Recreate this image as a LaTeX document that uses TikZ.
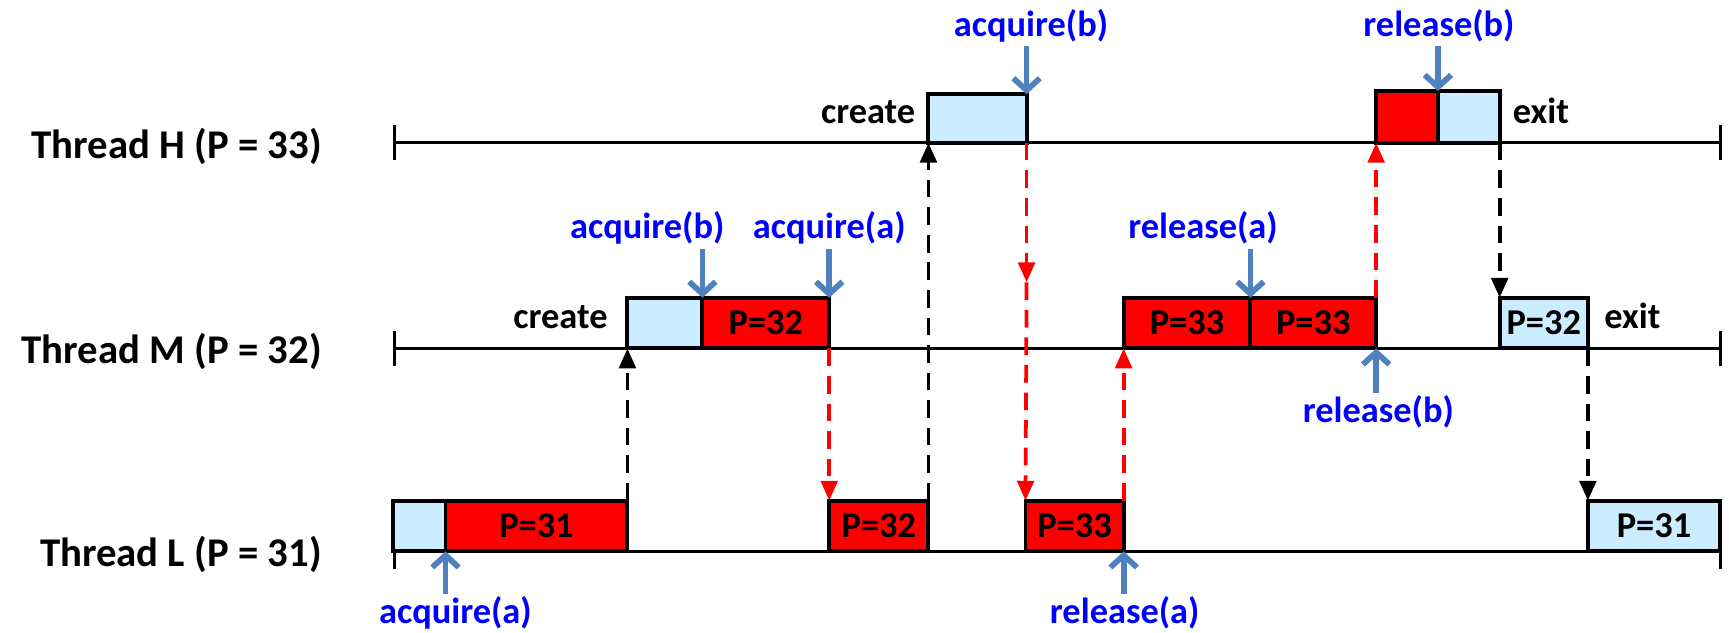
\documentclass[tikz,border=0pt]{standalone}
\usepackage{fontspec}
\setmainfont{Carlito}
\usetikzlibrary{arrows.meta}
\definecolor{paleblue}{RGB}{204,236,255}
\definecolor{evtarrow}{RGB}{80,128,190}
\definecolor{evttext}{RGB}{0,0,255}
\begin{document}
\begin{tikzpicture}[x=1pt, y=-1pt,
  lab/.style={font=\fontsize{33}{38}\selectfont\bfseries, inner sep=0pt, outer sep=0pt},
  thread/.style={font=\fontsize{37}{42}\selectfont\bfseries, inner sep=0pt, anchor=base east},
  slice/.style={lab, draw=black, line width=3.6pt, minimum height=46pt, anchor=south west},
  run/.style={slice, fill=red},
  idle/.style={slice, fill=paleblue},
  axis/.style={line width=2.8pt, {Bar[width=32pt]}-{Bar[width=32pt]}},
  evlabel/.style={lab, text=evttext, anchor=base},
  evarrow/.style={draw=evtarrow, line width=5.2pt, -{Straight Barb[length=11pt, width=24pt]}},
  handoff/.style={dash pattern=on 16pt off 9pt, line width=3.4pt, -{Triangle[length=18pt, width=15pt]}},
]
\useasboundingbox (0,0) rectangle (1568,574);

% ---------- time axes ----------
\coordinate (H0) at (356,129.5); \coordinate (H1) at (1562,129.5);
\coordinate (M0) at (356,316);   \coordinate (M1) at (1562,316);
\coordinate (L0) at (356,500);   \coordinate (L1) at (1562,500);
\draw[axis] (H0) -- (H1);
\draw[axis] (M0) -- (M1);
\draw[axis] (L0) -- (L1);

\node[thread] (tH) at (292,144) {Thread H (P = 33)};
\node[thread] (tM) at (292,330) {Thread M (P = 32)};
\node[thread] (tL) at (292,514) {Thread L (P = 31)};

% ---------- thread H ----------
\node[idle, minimum width=89pt, minimum height=44pt] (hNew) at (842,129.5) {};
\node[run,  minimum width=56pt, minimum height=47pt] (hRun) at (1248,129.5) {};
\node[idle, minimum width=56pt, minimum height=47pt] (hEnd) at (1304,129.5) {};
\node[lab, anchor=base east] (hCreate) at (830,112) {create};
\node[lab, anchor=base west] (hExit) at (1372,112) {exit};

% ---------- thread M ----------
\node[idle, minimum width=68pt]  (mNew) at (569,316) {};
\node[run,  minimum width=115pt] (mLow) at (637,316) {P=32};
\node[run,  minimum width=115pt] (mA)   at (1019,316) {P=33};
\node[run,  minimum width=114pt] (mB)   at (1134,316) {P=33};
\node[idle, minimum width=80pt]  (mEnd) at (1360,316) {P=32};
\node[lab, anchor=base east] (mCreate) at (551,298) {create};
\node[lab, anchor=base west] (mExit) at (1455,298) {exit};

% ---------- thread L ----------
\node[idle, minimum width=48pt]  (lNew)  at (356,500) {};
\node[run,  minimum width=165pt] (lLow)  at (404,500) {P=31};
\node[run,  minimum width=90pt]  (lMid)  at (752,500) {P=32};
\node[run,  minimum width=89pt]  (lHigh) at (930,500) {P=33};
\node[idle, minimum width=120pt] (lEnd)  at (1440,500) {P=31};

% ---------- lock events ----------
\node[evlabel] (hAcqB) at (935,33) {acquire(b)};
\node[evlabel] (hRelB) at (1305,33) {release(b)};
\node[evlabel] (mAcqB) at (587,216) {acquire(b)};
\node[evlabel] (mAcqA) at (752,216) {acquire(a)};
\node[evlabel] (mRelA) at (1091,216) {release(a)};
\node[evlabel] (mRelB) at (1250,383) {release(b)};
\node[evlabel] (lAcqA) at (413,565) {acquire(a)};
\node[evlabel] (lRelA) at (1020,565) {release(a)};

\coordinate (hAcqBt) at (931,42);
\coordinate (hRelBt) at (1304,42);
\coordinate (mAcqBt) at (637,226);
\coordinate (mAcqAt) at (752,226);
\coordinate (mRelAt) at (1134,226);
\coordinate (mRelBt) at (1248,356);
\coordinate (lAcqAt) at (404,539);
\coordinate (lRelAt) at (1019,539);

\draw[evarrow] (hAcqBt) -- (hNew.north east);
\draw[evarrow] (hRelBt) -- (hRun.north east);
\draw[evarrow] (mAcqBt) -- (mNew.north east);
\draw[evarrow] (mAcqAt) -- (mLow.north east);
\draw[evarrow] (mRelAt) -- (mA.north east);
\draw[evarrow] (mRelBt) -- (mB.south east);
\draw[evarrow] (lAcqAt) -- (lNew.south east);
\draw[evarrow] (lRelAt) -- (lHigh.south east);

% ---------- hand-offs between threads ----------
\coordinate (hmPass) at (931,256);
\draw[handoff] (lLow.north east) -- (mNew.south west);
\draw[handoff, red] (mLow.south east) -- (lMid.north west);
\draw[handoff] (lMid.north east) -- (hNew.south west);
\draw[handoff, red] (hNew.south east) -- (hmPass);
\draw[handoff, red] (hmPass) -- (lHigh.north west);
\draw[handoff, red] (lHigh.north east) -- (mA.south west);
\draw[handoff, red] (mB.north east) -- (hRun.south west);
\draw[handoff] (hEnd.south east) -- (mEnd.north west);
\draw[handoff] (mEnd.south east) -- (lEnd.north west);
\end{tikzpicture}
\end{document}
